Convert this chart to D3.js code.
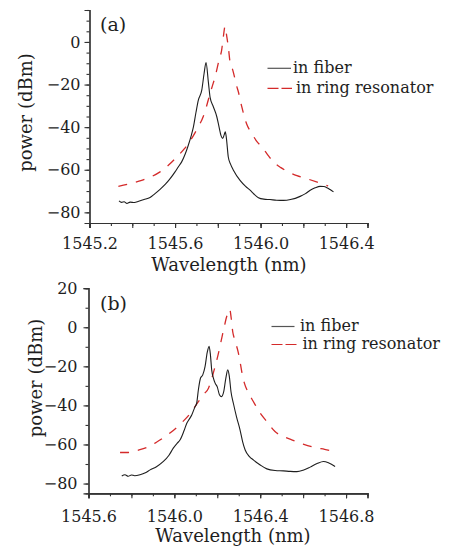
<!DOCTYPE html>
<html>
<head>
<meta charset="utf-8">
<script src="https://cdn.jsdelivr.net/npm/d3@7"></script>
<style>
body { margin: 0; background: #fff; }
text { font-family: "DejaVu Serif", serif; fill: #1e1e1e; }
</style>
</head>
<body>
<script>
// panel (a): wavelength (nm), power (dBm)
var fiberA = [[1545.338,-74.6],[1545.350,-75.3],[1545.362,-75.0],[1545.375,-75.8],[1545.390,-75.2],[1545.410,-75.4],[1545.430,-74.8],[1545.455,-74.0],[1545.483,-73.0],[1545.505,-71.3],[1545.530,-69.2],[1545.555,-66.8],[1545.577,-64.2],[1545.600,-61.0],[1545.615,-58.7],[1545.631,-56.3],[1545.648,-52.5],[1545.662,-48.5],[1545.675,-44.2],[1545.686,-39.9],[1545.698,-33.0],[1545.709,-27.3],[1545.725,-22.6],[1545.736,-14.7],[1545.745,-9.7],[1545.756,-19.0],[1545.764,-26.0],[1545.779,-30.4],[1545.795,-35.0],[1545.806,-40.0],[1545.815,-44.0],[1545.823,-45.3],[1545.830,-43.5],[1545.835,-42.2],[1545.840,-45.0],[1545.849,-54.0],[1545.860,-57.5],[1545.873,-60.2],[1545.904,-65.0],[1545.930,-67.8],[1545.951,-69.6],[1545.970,-71.5],[1545.990,-73.1],[1546.015,-73.8],[1546.044,-74.0],[1546.075,-74.3],[1546.107,-74.4],[1546.140,-74.0],[1546.185,-72.5],[1546.210,-71.2],[1546.232,-69.6],[1546.255,-68.5],[1546.278,-67.8],[1546.295,-67.9],[1546.310,-68.4],[1546.325,-69.3],[1546.341,-70.4]];
var ringA = [[1545.335,-67.8],[1545.390,-66.5],[1545.444,-65.0],[1545.490,-63.2],[1545.530,-61.0],[1545.570,-57.8],[1545.608,-54.0],[1545.645,-50.0],[1545.678,-45.3],[1545.705,-40.5],[1545.732,-35.0],[1545.745,-31.0],[1545.756,-27.0],[1545.772,-21.5],[1545.787,-16.5],[1545.807,-8.0],[1545.818,-3.8],[1545.826,2.5],[1545.834,7.4],[1545.842,2.5],[1545.849,-2.2],[1545.857,-9.3],[1545.870,-13.2],[1545.889,-21.0],[1545.896,-23.4],[1545.912,-30.4],[1545.935,-38.5],[1545.959,-43.0],[1545.985,-47.0],[1546.006,-49.3],[1546.030,-52.5],[1546.060,-56.3],[1546.095,-59.0],[1546.130,-61.0],[1546.170,-62.8],[1546.216,-64.2],[1546.265,-65.8],[1546.316,-67.6]];

// panel (b)
var fiberB = [[1545.755,-76.1],[1545.770,-75.5],[1545.785,-76.3],[1545.800,-75.6],[1545.815,-76.0],[1545.840,-75.5],[1545.865,-74.5],[1545.887,-73.0],[1545.915,-71.5],[1545.949,-68.7],[1545.975,-65.5],[1545.995,-61.9],[1546.012,-59.5],[1546.027,-57.6],[1546.045,-53.0],[1546.058,-49.1],[1546.070,-47.0],[1546.081,-44.9],[1546.095,-41.0],[1546.104,-38.9],[1546.112,-32.0],[1546.122,-26.0],[1546.132,-24.5],[1546.143,-20.2],[1546.153,-13.0],[1546.162,-9.8],[1546.168,-14.0],[1546.174,-21.8],[1546.182,-26.0],[1546.190,-28.6],[1546.200,-30.5],[1546.210,-34.5],[1546.220,-35.5],[1546.230,-33.0],[1546.240,-26.0],[1546.249,-21.8],[1546.256,-25.0],[1546.264,-33.0],[1546.275,-38.9],[1546.290,-46.0],[1546.306,-52.5],[1546.318,-58.5],[1546.330,-62.8],[1546.350,-66.2],[1546.368,-67.9],[1546.400,-70.5],[1546.431,-72.5],[1546.470,-73.3],[1546.508,-73.5],[1546.540,-73.8],[1546.571,-73.9],[1546.600,-73.2],[1546.633,-71.6],[1546.665,-69.8],[1546.695,-68.7],[1546.720,-69.5],[1546.749,-71.3]];
var ringB = [[1545.747,-64.1],[1545.786,-64.1],[1545.830,-63.0],[1545.871,-61.6],[1545.915,-59.0],[1545.957,-56.0],[1545.995,-52.8],[1546.035,-48.8],[1546.075,-44.0],[1546.112,-38.1],[1546.140,-34.0],[1546.159,-31.2],[1546.175,-26.0],[1546.190,-20.0],[1546.204,-14.0],[1546.218,-7.0],[1546.232,0.0],[1546.244,5.5],[1546.258,9.2],[1546.265,4.6],[1546.272,-2.3],[1546.279,-5.6],[1546.298,-13.0],[1546.306,-17.6],[1546.317,-24.4],[1546.326,-28.5],[1546.345,-33.5],[1546.368,-38.0],[1546.400,-44.0],[1546.431,-48.3],[1546.469,-53.4],[1546.510,-56.0],[1546.547,-57.6],[1546.600,-59.8],[1546.656,-61.6],[1546.700,-62.5],[1546.749,-63.6]];

var xTicksA = [1545.2, 1545.6, 1546.0, 1546.4];
var xTicksB = [1545.6, 1546.0, 1546.4, 1546.8];
var yTicksA = [-80, -60, -40, -20, 0];
var yTicksB = [-80, -60, -40, -20, 0, 20];
var seriesNames = ["in fiber", "in ring resonator"];

var svg = d3.select("body").append("svg")
  .attr("width", 458)
  .attr("height", 551);

function drawPanel(p) {
  var x = d3.scaleLinear().domain(p.xDomain).range(p.xRange);
  var y = d3.scaleLinear().domain(p.yDomain).range(p.yRange);
  var g = svg.append("g");

  // x axis: short ticks every 0.1, longer every 0.2, labels every 0.4
  var xMinor = d3.range(0, 14).map(function(i) { return +(p.xDomain[0] + i * 0.1).toFixed(1); })
    .filter(function(v) { return v <= p.xDomain[1] + 1e-9; });
  var xMid = xMinor.filter(function(v, i) { return i % 2 == 0; });
  var bottom = p.yRange[0];

  g.append("g").attr("transform", "translate(0," + bottom + ")")
    .call(d3.axisBottom(x).tickValues(xMinor).tickSize(3).tickFormat(""));
  g.append("g").attr("transform", "translate(0," + bottom + ")")
    .call(d3.axisBottom(x).tickValues(xMid).tickSize(5).tickFormat(""));
  var xl = g.append("g").attr("transform", "translate(0," + bottom + ")")
    .call(d3.axisBottom(x).tickValues(p.xLabels).tickSize(5).tickFormat(d3.format(".1f")));
  xl.selectAll("text").attr("y", p.xLabelY).attr("dy", null).style("font-size", "16px");

  // y axis: minor ticks + labelled ticks
  var yMinor = d3.range(p.yDomain[0] + 5, p.yDomain[1] + 0.1, p.yMinorStep);
  g.append("g").attr("transform", "translate(" + p.xRange[0] + ",0)")
    .call(d3.axisLeft(y).tickValues(yMinor).tickSize(3).tickFormat(""));
  var yl = g.append("g").attr("transform", "translate(" + p.xRange[0] + ",0)")
    .call(d3.axisLeft(y).tickValues(p.yLabels).tickSize(5).tickPadding(p.yPad));
  yl.selectAll("text").style("font-size", "16px");

  g.selectAll(".domain").attr("stroke", "#333").attr("stroke-width", 1.2);
  g.selectAll(".tick line").attr("stroke", "#333").attr("stroke-width", 1.1);

  var line = d3.line()
    .x(function(d) { return x(d[0]); })
    .y(function(d) { return y(d[1]); })
    .curve(d3.curveMonotoneX);

  g.append("path").datum(p.ring)
    .attr("d", line)
    .attr("fill", "none")
    .attr("stroke", "#d42a2a")
    .attr("stroke-width", 1.3)
    .attr("stroke-dasharray", "9,9");

  g.append("path").datum(p.fiber)
    .attr("d", line)
    .attr("fill", "none")
    .attr("stroke", "#1e1e1e")
    .attr("stroke-width", 1.1);

  // titles
  g.append("text")
    .attr("x", p.titleX).attr("y", p.titleY)
    .attr("text-anchor", "middle")
    .style("font-size", "18px")
    .text("Wavelength (nm)");
  g.append("text")
    .attr("transform", "translate(" + p.yTitleX + "," + p.yTitleY + ") rotate(-90)")
    .attr("text-anchor", "middle")
    .style("font-size", "18px")
    .text("power (dBm)");
  g.append("text")
    .attr("x", 100).attr("y", p.tagY)
    .style("font-size", "19px")
    .text(p.tag);

  // legend
  var leg = g.selectAll(".leg").data(seriesNames).enter().append("g");
  leg.append("line")
    .attr("x1", p.legX1).attr("x2", function(d, i) { return p.legX2[i]; })
    .attr("y1", function(d, i) { return p.legY[i] - 4.5; })
    .attr("y2", function(d, i) { return p.legY[i] - 4.5; })
    .attr("stroke", function(d, i) { return i == 0 ? "#555" : "#d42a2a"; })
    .attr("stroke-width", 1.2)
    .attr("stroke-dasharray", function(d, i) { return i == 0 ? null : "11,3"; });
  leg.append("text")
    .attr("x", function(d, i) { return p.legTextX[i]; })
    .attr("y", function(d, i) { return p.legY[i]; })
    .style("font-size", "16px")
    .text(function(d) { return d; });
}

drawPanel({
  fiber: fiberA, ring: ringA, tag: "(a)",
  xDomain: [1545.2, 1546.5], xRange: [89.5, 367.5],
  yDomain: [-85, 15], yRange: [223, 10], yMinorStep: 5,
  xLabels: xTicksA, yLabels: yTicksA, xLabelY: 26, yPad: 4,
  titleX: 229, titleY: 271, yTitleX: 31.5, yTitleY: 112.5, tagY: 30.5,
  legX1: 267.5, legX2: [291, 292], legY: [72.8, 92.8], legTextX: [293, 296]
});

drawPanel({
  fiber: fiberB, ring: ringB, tag: "(b)",
  xDomain: [1545.6, 1546.9], xRange: [88.5, 367.5],
  yDomain: [-85, 20], yRange: [493.3, 288.2], yMinorStep: 10,
  xLabels: xTicksB, yLabels: yTicksB, xLabelY: 28.5, yPad: 6,
  titleX: 233, titleY: 542, yTitleX: 41.5, yTitleY: 378, tagY: 310,
  legX1: 271.5, legX2: [294.5, 297], legY: [331, 349], legTextX: [300, 302.5]
});
</script>
</body>
</html>
